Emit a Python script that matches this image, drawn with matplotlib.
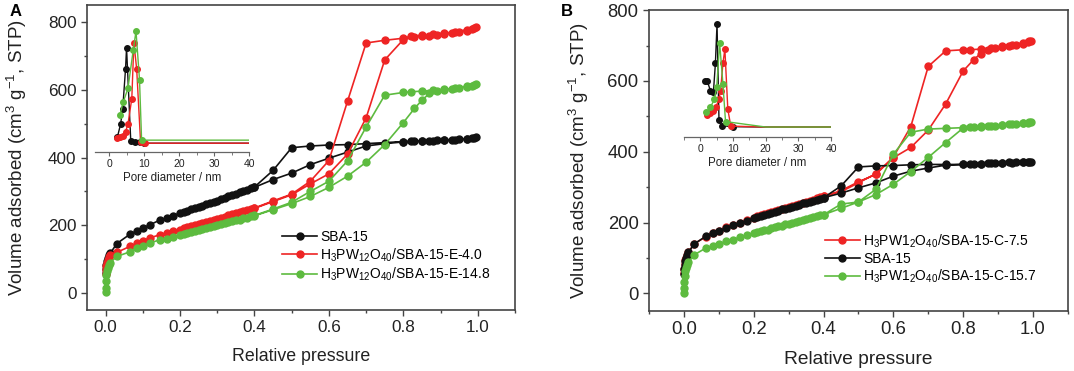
import numpy as np
import matplotlib
matplotlib.use("Agg")
import matplotlib.pyplot as plt
from matplotlib.ticker import MultipleLocator

plt.rcParams['font.family'] = ['Liberation Sans', 'DejaVu Sans']
plt.rcParams['mathtext.default'] = 'regular'

BLACK = '#111111'
RED = '#ee2424'
GREEN = '#5dbb3f'

# ---------------- panel A : isotherms ----------------
lowA = [0.0005, 0.001, 0.002, 0.004, 0.006, 0.009, 0.013, 0.03, 0.066, 0.085, 0.10, 0.12, 0.145, 0.165, 0.18,
        0.20, 0.22, 0.24, 0.26, 0.28, 0.30, 0.32, 0.34, 0.36, 0.38, 0.40,
        0.45, 0.50, 0.55, 0.60, 0.65, 0.70, 0.75, 0.80, 0.83, 0.85, 0.87, 0.89, 0.91, 0.93, 0.95, 0.97, 0.985, 0.995]
desA = [0.99, 0.97, 0.94, 0.91, 0.88, 0.85, 0.82, 0.80, 0.75, 0.70, 0.65, 0.60, 0.55, 0.50, 0.45,
        0.40, 0.39, 0.37, 0.35, 0.33, 0.31, 0.29, 0.27, 0.25, 0.23, 0.21]

sba_a_ads = [60, 72, 84, 95, 104, 112, 118, 146, 174, 184, 192, 202, 215, 221, 228,
             236, 243, 250, 258, 266, 273, 281, 289, 297, 305, 312,
             335, 354, 379, 398, 416, 434, 441, 446, 448, 449, 450, 451, 452, 453, 454, 455, 458, 461]
sba_a_des = [459, 455, 453, 451, 450, 449, 448, 447, 444, 441, 438, 437, 434, 429, 362,
             313, 309, 301, 293, 285, 277, 270, 262, 254, 247, 239]

e40_ads = [55, 68, 80, 90, 98, 106, 112, 120, 138, 148, 155, 163, 172, 178, 183,
           187, 194, 200, 206, 213, 219, 225, 232, 238, 244, 250,
           270, 290, 322, 352, 410, 517, 688, 748, 755, 758, 760, 762, 764, 767, 770, 774, 779, 784]
e40_des = [782, 777, 771, 767, 764, 761, 758, 752, 746, 738, 566, 391, 330, 292, 272,
           251, 248, 242, 236, 229, 223, 216, 210, 204, 197, 191]

lowA_g = [0.0002] + lowA
e148_ads = [2, 15, 35, 52, 65, 75, 83, 90, 108, 122, 133, 138, 148, 157, 161, 165,
            172, 178, 184, 189, 195, 200, 206, 212, 217, 223, 228,
            246, 264, 285, 312, 345, 386, 438, 503, 545, 569, 589, 597, 600, 603, 606, 609, 612, 616]
e148_des = [615, 610, 605, 601, 598, 596, 594, 592, 584, 490, 390, 330, 300, 268, 248,
            229, 226, 221, 215, 210, 204, 198, 192, 186, 181, 175]

# ---------------- panel A : inset (pore size distribution, a.u.) ----------------
insA_sba_x = [2.4, 3.3, 3.9, 4.7, 5.0, 6.2, 7.3, 8.7, 10.0, 20.0, 30.0, 40.0]
insA_sba_y = [0.12, 0.22, 0.34, 0.65, 0.82, 0.09, 0.08, 0.08, 0.07, 0.07, 0.07, 0.07]
insA_e40_x = [2.4, 3.0, 3.9, 4.7, 5.4, 6.5, 7.1, 7.9, 9.0, 10.2, 20.0, 30.0, 40.0]
insA_e40_y = [0.11, 0.12, 0.13, 0.16, 0.22, 0.42, 0.86, 0.65, 0.08, 0.07, 0.07, 0.07, 0.07]
insA_e148_x = [3.1, 4.0, 5.4, 6.9, 7.7, 8.7, 9.3, 20.0, 30.0, 40.0]
insA_e148_y = [0.29, 0.39, 0.50, 0.80, 0.95, 0.57, 0.094, 0.094, 0.094, 0.094]

# ---------------- panel B : isotherms ----------------
lowB = [0.0005, 0.001, 0.002, 0.004, 0.006, 0.009, 0.013, 0.03, 0.063, 0.083, 0.10, 0.12, 0.14, 0.16, 0.18,
        0.20, 0.22, 0.24, 0.26, 0.28, 0.30, 0.32, 0.34, 0.36, 0.38, 0.40,
        0.45, 0.50, 0.55, 0.60, 0.65, 0.70, 0.75, 0.80, 0.83, 0.85, 0.87, 0.89, 0.91, 0.93, 0.95, 0.97, 0.985, 0.995]
desB = [0.99, 0.97, 0.94, 0.91, 0.88, 0.85, 0.82, 0.80, 0.75, 0.70, 0.65, 0.60, 0.55, 0.50, 0.45,
        0.40, 0.39, 0.37, 0.35, 0.33, 0.31, 0.29, 0.27, 0.25, 0.23, 0.21]

c75_ads = [58, 70, 82, 93, 101, 109, 117, 140, 160, 170, 176, 186, 193, 200, 206,
           214, 220, 226, 232, 238, 244, 250, 256, 262, 268, 274,
           287, 312, 338, 383, 412, 461, 535, 628, 660, 677, 688, 693, 697, 699, 702, 705, 709, 713]
c75_des = [712, 707, 702, 698, 694, 690, 688, 688, 685, 641, 471, 385, 336, 315, 290,
           274, 271, 265, 259, 253, 247, 241, 235, 229, 223, 217]

sba_b_ads = [55, 68, 80, 92, 100, 108, 116, 140, 161, 170, 175, 185, 192, 199, 205,
             213, 219, 225, 231, 237, 242, 248, 254, 259, 265, 270,
             283, 298, 312, 331, 345, 354, 362, 364, 365, 366, 367, 368, 369, 370, 370, 371, 372, 372]
sba_b_des = [371, 370, 369, 368, 367, 366, 365, 364, 364, 364, 363, 361, 360, 357, 303,
             270, 267, 262, 256, 250, 245, 239, 233, 228, 222, 216]

lowB_g = [0.0002] + lowB
c157_ads = [2, 15, 32, 48, 62, 72, 80, 88, 109, 128, 133, 138, 147, 152, 158, 164,
            170, 175, 180, 186, 191, 196, 201, 206, 212, 217, 222,
            240, 258, 279, 308, 344, 384, 426, 467, 470, 472, 473, 474, 475, 477, 478, 480, 482, 485]
c157_des = [484, 480, 477, 475, 473, 471, 470, 468, 466, 464, 455, 393, 294, 258, 252,
            222, 220, 215, 210, 205, 200, 195, 189, 184, 179, 174]

# ---------------- panel B : inset ----------------
insB_sba_x = [1.55, 2.1, 3.1, 4.0, 4.6, 5.1, 5.7, 6.7, 9.9, 20.0, 30.0, 40.0]
insB_sba_y = [0.47, 0.47, 0.39, 0.38, 0.62, 0.955, 0.14, 0.095, 0.087, 0.084, 0.084, 0.084]
insB_c75_x = [2.1, 3.1, 4.0, 4.8, 5.7, 6.2, 6.9, 7.5, 8.4, 9.3, 20.0, 40.0]
insB_c75_y = [0.185, 0.20, 0.22, 0.255, 0.32, 0.39, 0.62, 0.74, 0.235, 0.092, 0.084, 0.084]
insB_c157_x = [1.85, 3.1, 4.3, 5.0, 5.9, 6.9, 7.7, 20.0, 40.0]
insB_c157_y = [0.21, 0.25, 0.32, 0.42, 0.79, 0.45, 0.13, 0.084, 0.084]

labelsA = ['SBA-15', 'H$_3$PW$_{12}$O$_{40}$/SBA-15-E-4.0', 'H$_3$PW$_{12}$O$_{40}$/SBA-15-E-14.8']
labelsB = ['H$_3$PW1$_2$O$_{40}$/SBA-15-C-7.5', 'SBA-15', 'H$_3$PW1$_2$O$_{40}$/SBA-15-C-15.7']

TXT = '#222222'
SPINE = '#444444'


def style_main(ax, xlim, ylim, fs, ylpad):
    ax.set_xlim(*xlim)
    ax.set_ylim(*ylim)
    ax.xaxis.set_major_locator(MultipleLocator(0.2))
    ax.xaxis.set_minor_locator(MultipleLocator(0.1))
    ax.yaxis.set_major_locator(MultipleLocator(200))
    ax.yaxis.set_minor_locator(MultipleLocator(100))
    ax.set_xticks([0, 0.2, 0.4, 0.6, 0.8, 1.0])
    ax.set_xticklabels(['0.0', '0.2', '0.4', '0.6', '0.8', '1.0'])
    ax.tick_params(which='both', direction='out', colors=SPINE, labelcolor=TXT,
                   top=False, right=False, labelsize=fs)
    ax.tick_params(which='major', length=4, width=1)
    ax.tick_params(which='minor', length=2.5, width=1)
    for s in ax.spines.values():
        s.set_color(SPINE)
        s.set_linewidth(1.2)
    ax.set_xlabel('Relative pressure', fontsize=fs + 0.5, color=TXT, labelpad=9)
    ax.set_ylabel('Volume adsorbed (cm$^3$ g$^{-1}$, STP)', fontsize=13.5, color=TXT, labelpad=ylpad)


def style_inset(ax, xlim, fs):
    ax.set_xlim(*xlim)
    ax.set_ylim(0, 1)
    ax.patch.set_alpha(0)
    for k in ['top', 'right', 'left']:
        ax.spines[k].set_visible(False)
    ax.spines['bottom'].set_color('#666666')
    ax.spines['bottom'].set_linewidth(0.9)
    ax.set_yticks([])
    ax.xaxis.set_major_locator(MultipleLocator(10))
    ax.xaxis.set_minor_locator(MultipleLocator(5))
    ax.tick_params(axis='x', which='both', direction='out', colors='#666666', labelcolor=TXT, labelsize=fs, pad=2)
    ax.tick_params(axis='x', which='major', length=3)
    ax.tick_params(axis='x', which='minor', length=2)
    ax.set_xlabel('Pore diameter / nm', fontsize=fs + 0.8, color=TXT, labelpad=2)


def iso(ax, xa, ya, xd, yd, c, lab):
    x = list(xa) + list(xd)
    y = list(ya) + list(yd)
    ax.plot(x, y, '-o', color=c, ms=5, lw=1.2, mec=c, label=lab)


def psd(ax, x, y, c):
    n = sum(1 for v in x if v <= 10.5)
    ax.plot(x, y, '-o', color=c, ms=4, lw=1.0, mec=c, markevery=list(range(n)))


fig = plt.figure(figsize=(10.74, 3.71), dpi=100)

axA = fig.add_axes([0.081, 0.1644, 0.3985, 0.822])
iso(axA, lowA, sba_a_ads, desA, sba_a_des, BLACK, labelsA[0])
iso(axA, lowA, e40_ads, desA, e40_des, RED, labelsA[1])
iso(axA, lowA_g, e148_ads, desA, e148_des, GREEN, labelsA[2])
style_main(axA, (-0.05, 1.1), (-50, 850), 12.3, 14)
axA.legend(loc='upper left', bbox_to_anchor=(0.456, 0.262), frameon=False, fontsize=10,
           handlelength=2.5, handletextpad=0.25, labelspacing=0.15, borderpad=0, borderaxespad=0)

inA = fig.add_axes([0.0885, 0.590, 0.1434, 0.343])
psd(inA, insA_sba_x, insA_sba_y, BLACK)
psd(inA, insA_e40_x, insA_e40_y, RED)
psd(inA, insA_e148_x, insA_e148_y, GREEN)
style_inset(inA, (-4, 40), 7.5)

axB = fig.add_axes([0.6043, 0.1617, 0.390, 0.811])
iso(axB, lowB, c75_ads, desB, c75_des, RED, labelsB[0])
iso(axB, lowB, sba_b_ads, desB, sba_b_des, BLACK, labelsB[1])
iso(axB, lowB_g, c157_ads, desB, c157_des, GREEN, labelsB[2])
style_main(axB, (-0.1, 1.1), (-50, 800), 13.3, 12)
axB.legend(loc='upper left', bbox_to_anchor=(0.42, 0.262), frameon=False, fontsize=10,
           handlelength=2.5, handletextpad=0.25, labelspacing=0.15, borderpad=0, borderaxespad=0)

inB = fig.add_axes([0.6369, 0.6307, 0.1369, 0.32])
psd(inB, insB_sba_x, insB_sba_y, BLACK)
psd(inB, insB_c75_x, insB_c75_y, RED)
psd(inB, insB_c157_x, insB_c157_y, GREEN)
style_inset(inB, (-5, 40), 7.5)

fig.text(10 / 1074, 1 - 12 / 371, 'A', fontsize=12, fontweight='bold', va='center', ha='left')
fig.text(561 / 1074, 1 - 12 / 371, 'B', fontsize=12, fontweight='bold', va='center', ha='left')

fig.savefig('out.png', dpi=100)
